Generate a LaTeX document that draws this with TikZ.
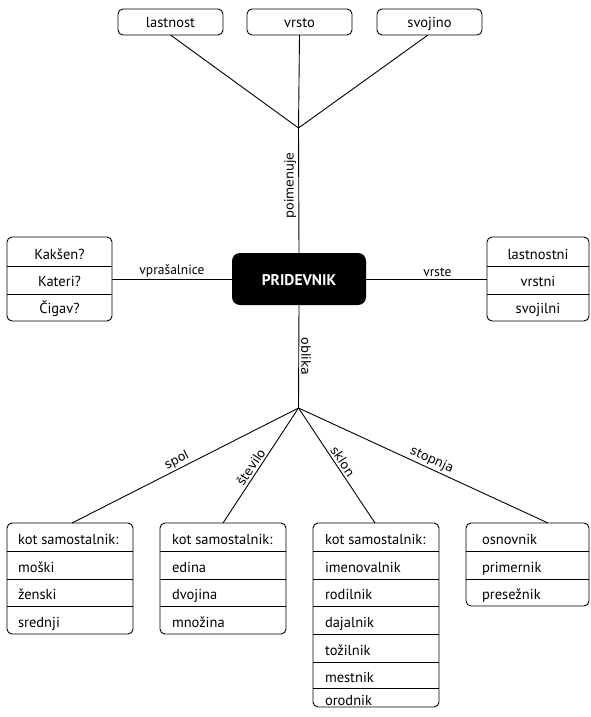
\documentclass[tikz,border=0pt]{standalone}
\usepackage{fontspec}
\setmainfont{PT Sans}
\newfontfamily\lblfont{DejaVu Sans}
\begin{document}
\begin{tikzpicture}[x=1pt,y=-1pt,
  every node/.style={inner sep=0pt, outer sep=0pt},
  frame/.style={draw, line width=0.9pt, rounded corners=5pt, minimum width=#1},
  topbox/.style={frame=105pt, minimum height=26pt},
  core/.style={fill=black, rounded corners=8pt, minimum width=134pt, minimum height=52pt},
  coretxt/.style={text=white, font=\fontsize{15.5}{18}\selectfont\bfseries, anchor=base},
  txt/.style={font=\fontsize{14.5}{17}\selectfont, anchor=base west},
  ctxt/.style={font=\fontsize{14.5}{17}\selectfont, anchor=base},
  conn/.style={line width=0.9pt},
  sep/.style={line width=0.9pt},
  lbl/.style={font=\fontsize{13.5}{16}\selectfont, inner sep=2pt},
  olbl/.style={font=\lblfont\fontsize{12.5}{15}\selectfont, inner sep=2.5pt}
]
\useasboundingbox (0,0) rectangle (591,717);

% top boxes
\node[topbox] (t1) at (170.5,22) {};
\node[topbox] (t2) at (299.5,22) {};
\node[topbox] (t3) at (429.5,22) {};
\node[ctxt] (t1t) at (170.5,28) {lastnost};
\node[ctxt] (t2t) at (299.5,28) {vrsto};
\node[ctxt] (t3t) at (429.5,28) {svojino};

% center
\node[core] (c) at (299,279) {};
\node[coretxt] (ct) at (299,285) {PRIDEVNIK};

\coordinate (jt) at (298.5,128);
\coordinate (jb) at (298.5,408);

% left box
\node[frame=105pt, minimum height=84pt] (L) at (59.5,279) {};
\draw[sep] (L.west |- 0,266) -- (L.east |- 0,266);
\draw[sep] (L.west |- 0,294) -- (L.east |- 0,294);
\node[ctxt] (l1) at (59.5,259) {Kakšen?};
\node[ctxt] (l2) at (59.5,286) {Kateri?};
\node[ctxt] (l3) at (59.5,313) {Čigav?};

% right box
\node[frame=102pt, minimum height=84pt] (R) at (538,279) {};
\draw[sep] (R.west |- 0,266) -- (R.east |- 0,266);
\draw[sep] (R.west |- 0,294) -- (R.east |- 0,294);
\node[ctxt] (r1) at (538,259) {lastnostni};
\node[ctxt] (r2) at (538,286) {vrstni};
\node[ctxt] (r3) at (538,313) {svojilni};

% bottom box 1
\node[frame=126pt, minimum height=111pt] (b1) at (70,578.5) {};
\foreach \yy in {551,579,606} \draw[sep] (b1.west |- 0,\yy) -- (b1.east |- 0,\yy);
\node[txt] (b1a) at (18,544) {kot samostalnik:};
\node[txt] (b1b) at (18,572) {moški};
\node[txt] (b1c) at (18,599) {ženski};
\node[txt] (b1d) at (18,627) {srednji};

% bottom box 2
\node[frame=126pt, minimum height=111pt] (b2) at (223,578.5) {};
\foreach \yy in {551,579,606} \draw[sep] (b2.west |- 0,\yy) -- (b2.east |- 0,\yy);
\node[txt] (b2a) at (172,544) {kot samostalnik:};
\node[txt] (b2b) at (172,572) {edina};
\node[txt] (b2c) at (172,599) {dvojina};
\node[txt] (b2d) at (172,627) {množina};

% bottom box 3
\node[frame=126pt, minimum height=184pt] (b3) at (376,615) {};
\foreach \yy in {551,579,606,634,662,688} \draw[sep] (b3.west |- 0,\yy) -- (b3.east |- 0,\yy);
\node[txt] (b3a) at (325,544) {kot samostalnik:};
\node[txt] (b3b) at (325,572) {imenovalnik};
\node[txt] (b3c) at (325,599) {rodilnik};
\node[txt] (b3d) at (325,627) {dajalnik};
\node[txt] (b3e) at (325,655) {tožilnik};
\node[txt] (b3f) at (325,682) {mestnik};
\node[txt] (b3g) at (325,705) {orodnik};

% bottom box 4
\node[frame=123pt, minimum height=83pt] (b4) at (527.5,564.5) {};
\foreach \yy in {551,579} \draw[sep] (b4.west |- 0,\yy) -- (b4.east |- 0,\yy);
\node[txt] (b4a) at (482,544) {osnovnik};
\node[txt] (b4b) at (482,572) {primernik};
\node[txt] (b4c) at (482,599) {presežnik};

% connectors top
\draw[conn] (t1.south) -- (jt);
\draw[conn] (t2.south) -- (jt);
\draw[conn] ([xshift=-1.5pt]t3.south) -- (jt);
\draw[conn] (c.north) -- node[pos=.54, rotate=90, anchor=south, olbl] (lp) {poimenuje} (jt);

% side connectors
\draw[conn] (L.east) -- node[pos=.5, above, lbl] (lv) {vprašalnice} (c.west);
\draw[conn] (c.east) -- node[pos=.59, above, lbl] (lr) {vrste} (R.west);

% bottom connectors
\draw[conn] (c.south) -- node[pos=.5, rotate=-90, anchor=south, olbl] (lo) {oblika} (jb);
\draw[conn] ([xshift=2pt]b1.north) -- node[pos=.48, sloped, above, olbl] (ls) {spol} (jb);
\draw[conn] (b2.north) -- node[pos=.45, sloped, above, olbl] (lsv) {število} (jb);
\draw[conn] (jb) -- node[pos=.5, sloped, above, olbl] (lsk) {sklon} ([xshift=-1pt]b3.north);
\draw[conn] (jb) -- node[pos=.52, sloped, above, olbl] (lst) {stopnja} ([xshift=20.5pt]b4.north);
\end{tikzpicture}
\end{document}
